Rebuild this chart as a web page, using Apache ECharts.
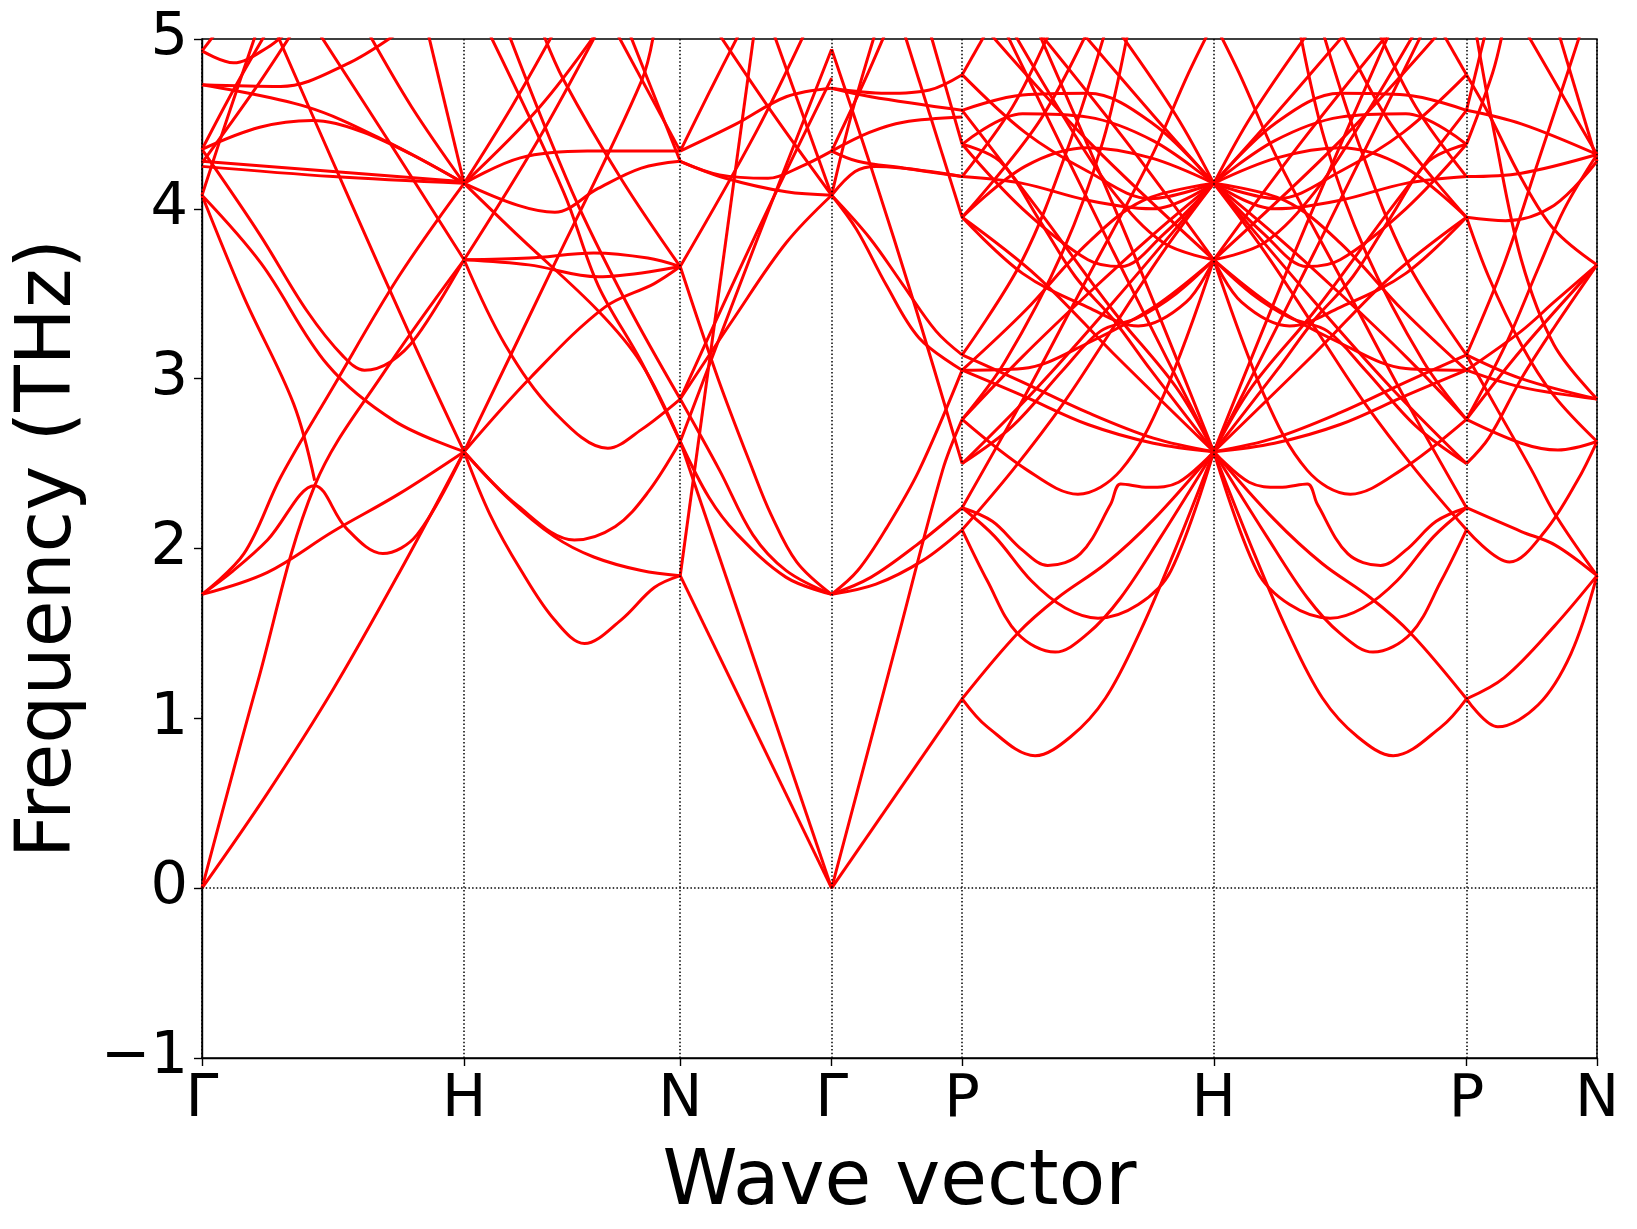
<!DOCTYPE html>
<html>
<head>
<meta charset="utf-8">
<title>Phonon bands</title>
<script src="https://cdn.jsdelivr.net/npm/echarts@6/dist/echarts.min.js"></script>
<style>
html, body { margin: 0; padding: 0; background: #fff; }
#main { width: 1637px; height: 1229px; }
</style>
</head>
<body>
<div id="main"></div>
<script>
// high symmetry points along the path (distance units of the plot)
var kLabels = ['Γ', 'H', 'N', 'Γ', 'P', 'H', 'P', 'N'];
var kPos = [0, 251, 458, 603, 728, 969, 1211, 1336];

// bands of each path segment: [fraction along segment, frequency THz]
var bandsGH = [
    [[0,0],[0.25,0.56],[0.5,1.17],[0.75,1.85],[1,2.57]],
    [[0,0],[0.21,1.2],[0.43,2.37],[0.7,3.05],[1,3.7]],
    [[0,1.73],[0.25,1.86],[0.5,2.1],[0.75,2.32],[1,2.57]],
    [[0,1.73],[0.12,1.87],[0.25,2.05],[0.43,2.37],[0.55,2.12],[0.69,1.97],[0.82,2.08],[1,2.57]],
    [[0,4.08],[0.16,3.48],[0.35,2.85],[0.43,2.4]],
    [[0,1.73],[0.16,1.97],[0.3,2.42],[0.5,2.95],[0.75,3.6],[1,4.15]],
    [[0,4.08],[0.225,3.68],[0.48,3.08],[0.735,2.75],[1,2.57]],
    [[0,4.35],[0.22,3.85],[0.4,3.4],[0.54,3.13],[0.62,3.05],[0.72,3.1],[0.82,3.25],[1,3.7]],
    [[0,4.25],[0.5,4.19],[1,4.15]],
    [[0,4.28],[0.5,4.22],[1,4.16]],
    [[0,4.35],[0.22,4.48],[0.42,4.52],[0.6,4.46],[0.8,4.32],[1,4.15]],
    [[0,4.73],[0.4,4.6],[0.7,4.4],[1,4.15]],
    [[0,4.73],[0.3,4.72],[0.55,4.85],[0.76,5.05]],
    [[0.63,5.05],[0.8,4.6],[1,4.15]],
    [[0.86,5.05],[1,4.15]],
    [[0.28,5.05],[0.55,4.1],[0.81,3.2],[1,2.57]],
    [[0.44,5.05],[0.72,4.38],[1,3.7]],
    [[0,4.08],[0.1,4.55],[0.21,5.05]],
    [[0,4.35],[0.12,4.7],[0.25,5.05]],
    [[0,4.27],[0.2,4.7],[0.35,5.05]],
    [[0,4.93],[0.12,4.86],[0.25,4.95],[0.33,5.05]],
    [[0,4.93],[0.06,5.05]]
];

var bandsHN = [
    [[0,2.57],[0.12,2.2],[0.264,1.87],[0.418,1.58],[0.557,1.44],[0.727,1.58],[0.88,1.77],[1,1.84]],
    [[0,2.57],[0.2,2.3],[0.418,2.07],[0.6,1.95],[0.82,1.87],[1,1.84]],
    [[0,2.57],[0.25,2.25],[0.51,2.05],[0.7,2.13],[0.85,2.33],[1,2.63]],
    [[0,3.7],[0.19,3.2],[0.42,2.8],[0.665,2.59],[0.82,2.7],[1,2.88]],
    [[0,2.57],[0.31,3.01],[0.65,3.42],[0.88,3.56],[1,3.66]],
    [[0,2.57],[0.42,3.68],[0.82,4.75],[0.88,5.05]],
    [[0,3.7],[0.3,3.71],[0.6,3.74],[0.85,3.71],[1,3.66]],
    [[0,3.7],[0.3,3.67],[0.62,3.6],[1,3.66]],
    [[0,4.15],[0.26,4.3],[0.57,4.34],[1,4.34]],
    [[0,4.15],[0.25,4.02],[0.42,3.98],[0.62,4.12],[0.82,4.24],[1,4.28]],
    [[0,4.15],[0.26,3.83],[0.62,3.4],[0.82,3.09],[1,2.63]],
    [[0,4.15],[0.22,4.6],[0.42,5.05]],
    [[0,4.15],[0.35,4.6],[0.62,5.05]],
    [[0,3.7],[0.34,4.4],[0.62,5.05]],
    [[0.36,5.05],[0.46,4.76],[0.73,4.17],[1,3.66]],
    [[0.7,5.05],[1,4.34]],
    [[0.76,5.05],[1,4.28]],
    [[0.2,5.05],[0.5,4.1],[0.75,3.45],[1,2.88]],
    [[0.11,5.05],[0.46,4.1],[0.62,3.55],[0.82,3.1],[1,2.63]]
];

var bandsNG = [
    [[0,1.84],[1,0]],
    [[0,2.63],[1,0]],
    [[0,2.63],[0.19,2.3],[0.37,2.09],[0.7,1.83],[1,1.73]],
    [[0,2.88],[0.26,2.46],[0.48,2.08],[0.7,1.87],[1,1.73]],
    [[0,3.66],[0.25,3.0],[0.48,2.46],[0.6,2.2],[0.77,1.92],[1,1.73]],
    [[0,1.84],[0.49,5.05]],
    [[0,4.28],[0.26,4.2],[0.58,4.18],[0.8,4.25],[1,4.34]],
    [[0,4.34],[0.37,4.5],[0.7,4.66],[1,4.71]],
    [[0,2.63],[0.5,3.8],[1,4.94]],
    [[0,2.88],[0.5,3.85],[1,4.77]],
    [[0,3.66],[0.5,4.45],[0.83,5.05]],
    [[0,2.88],[0.35,3.35],[0.7,3.8],[1,4.08]],
    [[0,4.28],[0.3,4.18],[0.7,4.1],[1,4.08]],
    [[0.61,5.05],[1,4.08]],
    [[0.24,5.05],[0.62,4.55],[1,4.08]],
    [[0,4.34],[0.2,4.7],[0.4,5.05]]
];

var bandsGP = [
    [[0,0],[1,1.115]],
    [[0,0],[0.5,1.45],[0.85,2.46],[1,2.76]],
    [[0,1.73],[0.34,1.79],[0.7,1.93],[1,2.11]],
    [[0,1.73],[0.3,1.83],[0.65,2.02],[1,2.24]],
    [[0,1.73],[0.2,1.87],[0.42,2.12],[0.67,2.46],[1,3.05]],
    [[0,4.08],[0.29,3.83],[0.54,3.56],[0.8,3.28],[1,3.14]],
    [[0,4.08],[0.19,3.88],[0.42,3.55],[0.67,3.24],[1,3.05]],
    [[0,4.08],[0.18,4.22],[0.34,4.25],[1,4.19]],
    [[0,4.34],[0.2,4.28],[0.55,4.24],[1,4.19]],
    [[0,4.34],[0.29,4.45],[0.55,4.51],[1,4.54]],
    [[0,4.71],[0.42,4.68],[0.75,4.7],[1,4.79]],
    [[0,4.71],[0.3,4.66],[1,4.58]],
    [[0.55,5.05],[1,3.95]],
    [[0,4.94],[0.3,4.25],[0.65,3.4],[1,2.5]],
    [[0.75,5.05],[1,4.38]],
    [[0,4.08],[0.15,4.55],[0.34,5.05]],
    [[0,4.34],[0.25,4.75],[0.42,5.05]]
];

// P -> H (also used for H -> P, which is the same path walked backwards)
var bandsPH = [
    [[0,1.115],[0.1,0.95],[0.29,0.78],[0.43,0.89],[0.57,1.12],[0.71,1.52],[0.84,1.97],[1,2.57]],
    [[0,1.115],[0.22,1.5],[0.38,1.71],[0.57,1.91],[0.76,2.17],[1,2.57]],
    [[0,2.11],[0.1,1.81],[0.22,1.5],[0.37,1.39],[0.5,1.5],[0.63,1.71],[0.79,2.07],[1,2.57]],
    [[0,2.24],[0.13,2.07],[0.275,1.81],[0.41,1.65],[0.54,1.59],[0.7,1.67],[0.83,1.87],[1,2.57]],
    [[0,2.24],[0.12,2.16],[0.24,1.99],[0.34,1.9],[0.47,1.97],[0.59,2.26],[0.63,2.38],[0.74,2.36],[0.86,2.39],[1,2.57]],
    [[0,2.11],[0.2,2.46],[0.4,2.85],[0.6,3.3],[0.8,3.75],[1,4.15]],
    [[0,2.76],[0.26,2.46],[0.46,2.32],[0.63,2.46],[0.8,2.9],[1,3.7]],
    [[0,3.05],[0.24,2.9],[0.5,2.73],[0.76,2.62],[1,2.57]],
    [[0,3.14],[0.24,2.98],[0.5,2.8],[0.76,2.65],[1,2.57]],
    [[0,3.05],[0.24,3.06],[0.5,3.21],[0.76,3.42],[1,3.7]],
    [[0.17,5.05],[0.6,3.75],[1,2.57]],
    [[0.3,5.05],[0.65,3.85],[1,2.57]],
    [[0,3.95],[0.3,3.6],[0.6,3.15],[1,2.57]],
    [[0,2.76],[0.24,3.13],[0.5,3.5],[0.76,3.85],[1,4.15]],
    [[0,2.5],[0.3,2.95],[0.6,3.45],[1,4.15]],
    [[0,4.19],[0.24,4.15],[0.5,4.05],[0.76,4.0],[1,4.15]],
    [[0,4.58],[0.24,4.67],[0.5,4.68],[0.76,4.5],[1,4.15]],
    [[0,4.38],[0.24,4.56],[0.5,4.54],[0.76,4.4],[1,4.15]],
    [[0,4.38],[0.24,4.0],[0.5,3.7],[0.63,3.66],[0.8,3.85],[1,4.15]],
    [[0,3.95],[0.24,3.62],[0.5,3.42],[0.7,3.31],[0.89,3.45],[1,3.7]],
    [[0,3.14],[0.24,3.7],[0.43,4.4],[0.57,5.05]],
    [[0,2.76],[0.17,3.1],[0.4,3.75],[0.56,4.4],[0.66,5.05]],
    [[0.47,5.05],[0.76,4.55],[1,4.15]],
    [[0.62,5.05],[0.85,4.55],[1,4.15]],
    [[0,4.19],[0.2,4.6],[0.35,5.05]],
    [[0,3.95],[0.3,4.5],[0.5,5.05]],
    [[0.3,5.05],[0.65,4.4],[1,3.7]],
    [[0,4.58],[0.3,4.0],[0.6,3.4],[0.85,2.95],[1,2.57]],
    [[0.1,5.05],[0.5,4.4],[1,3.7]],
    [[0,4.79],[0.1,5.05]],
    [[0,2.24],[0.25,2.9],[0.5,3.6],[0.75,4.3],[0.9,4.8],[1,5.1]],
    [[0,4.79],[0.25,4.45],[0.5,4.22],[0.75,4.06],[1,4.15]],
    [[0,3.05],[0.25,3.4],[0.5,3.8],[0.72,4.05],[1,4.15]],
    [[0,3.95],[0.25,4.25],[0.5,4.36],[0.75,4.3],[1,4.15]],
    [[0.2,5.05],[0.4,4.55],[0.6,4.1],[0.8,3.8],[1,3.7]],
    [[0,2.5],[0.2,2.72],[0.4,3.05],[0.55,3.28],[0.7,3.36],[0.85,3.5],[1,3.7]],
    [[0,4.38],[0.15,4.28],[0.3,3.95],[0.45,3.6],[0.6,3.35],[0.75,3.05],[1,2.57]]
];

var bandsPN = [
    [[0,1.115],[0.24,0.95],[0.55,1.08],[0.8,1.38],[1,1.84]],
    [[0,1.115],[0.29,1.24],[0.67,1.54],[1,1.84]],
    [[0,2.11],[0.33,1.92],[0.6,2.1],[0.85,2.4],[1,2.63]],
    [[0,2.24],[0.42,2.1],[0.68,2.02],[1,1.84]],
    [[0,4.19],[0.42,4.21],[1,4.32]],
    [[0,3.95],[0.3,3.93],[0.67,4.02],[1,4.28]],
    [[0,4.58],[0.42,4.5],[1,4.32]],
    [[0,3.05],[0.42,3.28],[0.67,3.45],[1,3.67]],
    [[0,2.76],[0.42,3.17],[1,3.67]],
    [[0,3.05],[0.42,2.95],[1,2.88]],
    [[0,3.14],[0.42,3.0],[1,2.88]],
    [[0,2.76],[0.42,2.62],[0.7,2.58],[1,2.63]],
    [[0,3.95],[0.17,3.6],[0.42,3.2],[0.67,2.9],[1,2.63]],
    [[0,2.5],[0.17,2.65],[0.42,3.0],[0.67,3.3],[1,3.67]],
    [[0,2.76],[0.3,3.2],[0.55,3.65],[0.75,4.0],[1,4.32]],
    [[0.07,5.05],[0.22,4.42],[0.42,3.7],[0.67,3.2],[1,2.88]],
    [[0.7,5.05],[1,4.28]],
    [[0,3.14],[0.29,3.68],[0.55,4.28],[0.8,4.86],[0.88,5.05]],
    [[0,3.14],[0.25,2.8],[0.5,2.46],[0.68,2.2],[1,1.84]],
    [[0,4.79],[0.17,4.56],[0.42,4.18],[0.67,3.88],[1,3.67]],
    [[0,4.58],[0.15,5.05]],
    [[0,4.38],[0.2,4.8],[0.28,5.05]],
    [[0.45,5.05],[0.75,4.65],[1,4.32]]
];

var chartDom = document.getElementById('main');
var myChart = echarts.init(chartDom);
var seriesList = [];

function addBands(bands, x0, x1) {
    echarts.util.each(bands, function (band) {
        var pts = [];
        for (var i = 0; i < band.length; i++) {
            pts.push([x0 + band[i][0] * (x1 - x0), band[i][1]]);
        }
        seriesList.push({
            type: 'line',
            data: pts,
            smooth: 0.35,
            showSymbol: false,
            silent: true,
            clip: true,
            lineStyle: { color: '#ff0000', width: 3 },
            z: 2
        });
    });
}

addBands(bandsGH, kPos[0], kPos[1]);
addBands(bandsHN, kPos[1], kPos[2]);
addBands(bandsNG, kPos[2], kPos[3]);
addBands(bandsGP, kPos[3], kPos[4]);
addBands(bandsPH, kPos[4], kPos[5]);
addBands(bandsPH, kPos[6], kPos[5]);
addBands(bandsPN, kPos[6], kPos[7]);

// dotted guide lines at the special points and at zero
var guides = [];
for (var i = 0; i < kPos.length; i++) {
    guides.push({ xAxis: kPos[i] });
}
guides.push({ yAxis: 0 });
seriesList.push({
    type: 'line',
    data: [],
    silent: true,
    z: 5,
    markLine: {
        silent: true,
        symbol: ['none', 'none'],
        label: { show: false },
        animation: false,
        lineStyle: { color: '#000', width: 1.5, type: [1.5, 2.2] },
        data: guides
    }
});

var font = 'DejaVu Sans';
var option = {
    animation: false,
    backgroundColor: '#fff',
    grid: {
        left: 202,
        right: 40,
        top: 39,
        bottom: 171,
        show: true,
        borderColor: '#000',
        borderWidth: 1.4,
        backgroundColor: 'transparent',
        outerBoundsMode: 'none'
    },
    xAxis: {
        type: 'value',
        min: 0,
        max: kPos[kPos.length - 1],
        name: 'Wave vector',
        nameLocation: 'middle',
        nameGap: 88,
        nameTextStyle: { fontFamily: font, fontSize: 76, color: '#000' },
        axisLine: { show: true, onZero: false, lineStyle: { color: '#000', width: 1.4 } },
        axisTick: { show: true, customValues: kPos, length: 8, lineStyle: { color: '#000', width: 1.4 } },
        axisLabel: {
            customValues: kPos,
            margin: 13,
            fontFamily: font,
            fontSize: 59,
            color: '#000',
            formatter: function (v) {
                return kLabels[kPos.indexOf(v)];
            }
        },
        splitLine: { show: false }
    },
    yAxis: {
        type: 'value',
        min: -1,
        max: 5,
        interval: 1,
        name: 'Frequency (THz)',
        nameLocation: 'middle',
        nameGap: 114,
        nameTextStyle: { fontFamily: font, fontSize: 76, color: '#000' },
        axisLine: { show: true, lineStyle: { color: '#000', width: 1.4 } },
        axisTick: { show: true, length: 8, lineStyle: { color: '#000', width: 1.4 } },
        axisLabel: {
            margin: 14,
            fontFamily: font,
            fontSize: 59,
            color: '#000',
            formatter: function (v) {
                return v < 0 ? '\u2212' + (-v) : String(v);
            }
        },
        splitLine: { show: false }
    },
    series: seriesList
};

myChart.setOption(option);
</script>
</body>
</html>
